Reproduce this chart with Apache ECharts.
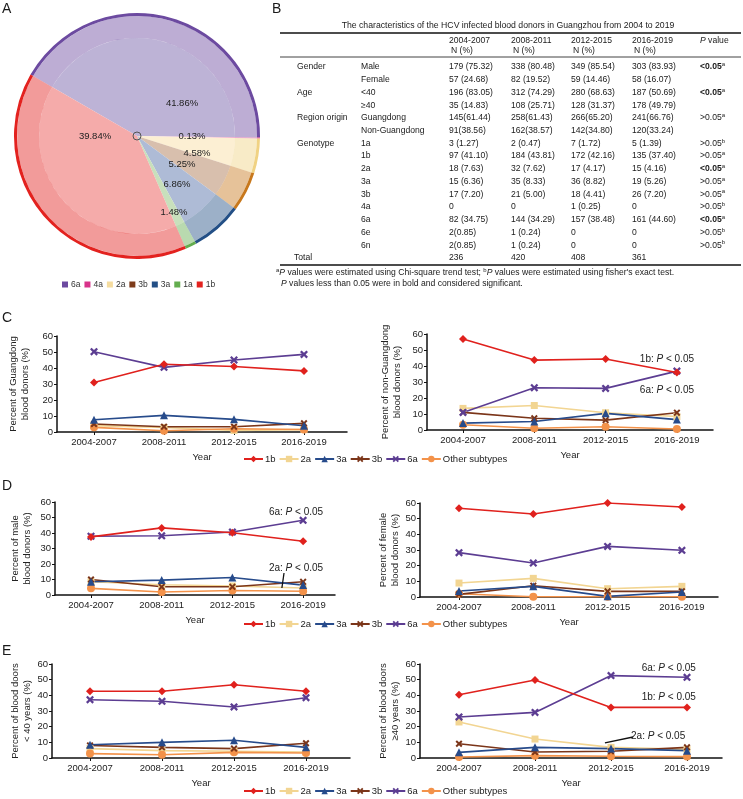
<!DOCTYPE html>
<html>
<head>
<meta charset="utf-8">
<script src="https://cdn.jsdelivr.net/npm/echarts@6/dist/echarts.min.js"></script>
<style>
html, body { margin: 0; padding: 0; background: #fff; }
#main { width: 743px; height: 799px; }
</style>
</head>
<body>
<div id="main"></div>
<script>
var FONT = 'Liberation Sans, Arial, sans-serif'
var INK = '#1a1a1a'

// ---- panel A: genotype share of the tree
var genotypes = ['6a', '4a', '2a', '3b', '3a', '1a', '1b']
var genotypeShare = [41.86, 0.13, 4.58, 5.25, 6.86, 1.48, 39.84]

// ---- panel B: table
var periods = ['2004-2007', '2008-2011', '2012-2015', '2016-2019']
var rowGroups = ['Gender', '', 'Age', '', 'Region origin', '', 'Genotype', '', '', '', '', '', '', '', '']
var rowNames = ['Male', 'Female', '<40', '≥40', 'Guangdong', 'Non-Guangdong', '1a', '1b', '2a', '3a', '3b', '4a', '6a', '6e', '6n']
var n2004 = ['179 (75.32)', '57 (24.68)', '196 (83.05)', '35 (14.83)', '145(61.44)', '91(38.56)', '3 (1.27)', '97 (41.10)', '18 (7.63)', '15 (6.36)', '17 (7.20)', '0', '82 (34.75)', '2(0.85)', '2(0.85)']
var n2008 = ['338 (80.48)', '82 (19.52)', '312 (74.29)', '108 (25.71)', '258(61.43)', '162(38.57)', '2 (0.47)', '184 (43.81)', '32 (7.62)', '35 (8.33)', '21 (5.00)', '0', '144 (34.29)', '1 (0.24)', '1 (0.24)']
var n2012 = ['349 (85.54)', '59 (14.46)', '280 (68.63)', '128 (31.37)', '266(65.20)', '142(34.80)', '7 (1.72)', '172 (42.16)', '17 (4.17)', '36 (8.82)', '18 (4.41)', '1 (0.25)', '157 (38.48)', '0', '0']
var n2016 = ['303 (83.93)', '58 (16.07)', '187 (50.69)', '178 (49.79)', '241(66.76)', '120(33.24)', '5 (1.39)', '135 (37.40)', '15 (4.16)', '19 (5.26)', '26 (7.20)', '0', '161 (44.60)', '0', '0']
var pValues = ['<0.05', '', '<0.05', '', '>0.05', '', '>0.05', '>0.05', '<0.05', '>0.05', '>0.05', '>0.05', '<0.05', '>0.05', '>0.05']
var pTests = ['a', '', 'a', '', 'a', '', 'b', 'a', 'a', 'a', 'a', 'b', 'a', 'b', 'b']
var totals = ['236', '420', '408', '361']

// ---- panels C-E: percent of donors by subtype
var subtypes = ['1b', '2a', '3a', '3b', '6a', 'Other subtypes']

var gd1b = [30.9, 42.3, 40.9, 38.2]
var gd2a = [4.0, 2.8, 1.0, 1.5]
var gd3a = [7.7, 10.4, 7.9, 3.9]
var gd3b = [5.0, 3.3, 3.3, 5.4]
var gd6a = [50.2, 40.4, 45.0, 48.5]
var gdOther = [2.9, 0.8, 2.0, 1.6]

var ngd1b = [56.9, 43.7, 44.4, 35.9]
var ngd2a = [13.5, 15.3, 10.8, 8.4]
var ngd3a = [4.3, 5.3, 10.4, 6.5]
var ngd3b = [11.0, 7.3, 6.2, 10.8]
var ngd6a = [11.0, 26.4, 26.0, 36.8]
var ngdOther = [3.3, 1.1, 2.0, 0.6]

var male1b = [37.5, 43.3, 40.2, 34.7]
var male2a = [8.5, 6.6, 5.8, 4.5]
var male3a = [8.5, 9.6, 11.3, 6.4]
var male3b = [10.0, 5.3, 5.3, 8.5]
var male6a = [37.9, 38.2, 40.6, 48.2]
var maleOther = [4.3, 1.9, 2.9, 2.4]

var female1b = [56.6, 53.0, 60.0, 57.4]
var female2a = [8.9, 11.9, 5.3, 6.8]
var female3a = [3.8, 6.8, 0.4, 3.2]
var female3b = [1.7, 7.2, 3.6, 3.6]
var female6a = [28.3, 21.7, 32.3, 29.8]
var femaleOther = [2.1, 0.2, 0.2, 0.2]

var young1b = [42.6, 42.6, 46.8, 42.6]
var young2a = [6.0, 4.7, 4.3, 3.8]
var young3a = [8.5, 10.0, 11.3, 6.8]
var young3b = [8.0, 6.8, 6.0, 9.4]
var young6a = [37.2, 36.2, 32.6, 38.5]
var youngOther = [2.8, 2.1, 3.6, 3.2]

var old1b = [40.4, 49.8, 32.3, 32.3]
var old2a = [23.0, 12.1, 6.8, 5.5]
var old3a = [3.6, 6.8, 6.0, 4.7]
var old3b = [9.1, 3.8, 4.3, 6.8]
var old6a = [26.2, 29.1, 52.6, 51.5]
var oldOther = [0.6, 1.5, 1.1, 0.9]

var charts = [
  { title: 'Percent of Guangdong\nblood donors (%)', values: [gd1b, gd2a, gd3a, gd3b, gd6a, gdOther] },
  { title: 'Percent of non-Guangdong\nblood donors (%)', values: [ngd1b, ngd2a, ngd3a, ngd3b, ngd6a, ngdOther] },
  { title: 'Percent of male\nblood donors (%)', values: [male1b, male2a, male3a, male3b, male6a, maleOther] },
  { title: 'Percent of female\nblood donors (%)', values: [female1b, female2a, female3a, female3b, female6a, femaleOther] },
  { title: 'Percent of blood doors\n< 40 years (%)', values: [young1b, young2a, young3a, young3b, young6a, youngOther] },
  { title: 'Percent of blood doors\n≥40 years (%)', values: [old1b, old2a, old3a, old3b, old6a, oldOther] }
]

// annotations (data coordinates)
var notes = [
  { chart: 1, x: 2.86, y: 44.4, label: '1b' },
  { chart: 1, x: 2.86, y: 25, label: '6a' },
  { chart: 2, x: 2.9, y: 53.5, label: '6a' },
  { chart: 2, x: 2.9, y: 17.4, label: '2a' },
  { chart: 5, x: 2.76, y: 57.4, label: '6a' },
  { chart: 5, x: 2.76, y: 39, label: '1b' },
  { chart: 5, x: 2.62, y: 14, label: '2a' }
]
var pointers = [
  { chart: 2, from: [2.73, 14.2], to: [2.70, 4.5] },
  { chart: 5, from: [2.29, 13.4], to: [1.92, 9.6] }
]

// ---- layout / style
var shadeColors = ['#bdb3d6', '#ee9cc4', '#fcefd3', '#d8bfad', '#aebbd6', '#c8e0bc', '#f5abaa']
var branchColors = ['#6c4aa0', '#d8338a', '#f0d283', '#c8781c', '#234f86', '#63ad4e', '#e3221f']
var legendAColors = ['#6c4aa0', '#d8338a', '#f5dc9f', '#7d3b1a', '#234f86', '#63ad4e', '#e3221f']
var pieCenter = [137, 136]
var pieLabelOffsets = [[45, -33], [55, 0], [60, 17], [45, 28], [40, 48], [37, 76], [-42, 0]]

var lineColors = ['#e0211d', '#f2d592', '#274b8b', '#7b3519', '#5c3d92', '#f3924a']
var CROSS = 'path://M0,2L2,0L5,3L8,0L10,2L7,5L10,8L8,10L5,7L2,10L0,8L3,5Z'
var symbols = ['diamond', 'rect', 'triangle', CROSS, CROSS, 'circle']
var symbolSizes = [8, 7, 8, 7, 8, 8]
var drawOrder = [1, 5, 3, 2, 4, 0]

var boxes = [
  { left: 57, top: 336, right: 347, bottom: 432, p0: 94, sp: 70, gap: 26 },
  { left: 427, top: 334, right: 713, bottom: 430, p0: 463, sp: 71.3, gap: 24 },
  { left: 55, top: 502, right: 335, bottom: 595, p0: 91, sp: 70.7, gap: 22 },
  { left: 420, top: 503, right: 718, bottom: 597, p0: 459, sp: 74.3, gap: 19 },
  { left: 52, top: 664, right: 350, bottom: 758, p0: 90, sp: 72, gap: 17 },
  { left: 420, top: 664, right: 722, bottom: 758, p0: 459, sp: 76, gap: 18 }
]
var legendTops = [454, 619, 786]

// ---- graphic: letters, table, pie labels
var elements = []
function txt (text, x, y, extra) {
  var style = { text: text, fill: INK, fontSize: 8.6, fontFamily: FONT, align: 'left', verticalAlign: 'middle' }
  for (var k in (extra || {})) style[k] = extra[k]
  elements.push({ type: 'text', x: x, y: y, z: 100, silent: true, style: style })
}
function hline (x1, x2, y, w) {
  elements.push({ type: 'line', silent: true, shape: { x1: x1, y1: y, x2: x2, y2: y }, style: { stroke: '#111', lineWidth: w } })
}
var richBase = {
  n: { fontSize: 8.6, fontFamily: FONT, fill: INK, lineHeight: 11 },
  b: { fontSize: 8.6, fontFamily: FONT, fill: INK, fontWeight: 'bold', lineHeight: 11 },
  i: { fontSize: 8.6, fontFamily: FONT, fill: INK, fontStyle: 'italic', lineHeight: 11 },
  s: { fontSize: 6, fontFamily: FONT, fill: INK, verticalAlign: 'top', lineHeight: 11 }
}

;[['A', 2, 2], ['B', 272, 2], ['C', 2, 311], ['D', 2, 479], ['E', 2, 644]].forEach(function (l) {
  txt(l[0], l[1], l[2], { fontSize: 14, verticalAlign: 'top' })
})

txt('The characteristics of the HCV infected blood donors in Guangzhou from 2004 to 2019', 508, 26, { align: 'center', fontSize: 8.7 })
hline(280, 741, 33, 1.5)
hline(280, 741, 57, 0.8)
hline(280, 741, 265, 1.5)
var colX = [449, 511, 571, 632]
periods.forEach(function (p, j) {
  txt(p, colX[j], 41)
  txt('N (%)', colX[j] + 2, 51)
})
txt('{i|P}{n| value}', 700, 41, { rich: richBase })
var cols = [n2004, n2008, n2012, n2016]
rowNames.forEach(function (r, i) {
  var y = 67 + i * 12.73
  if (rowGroups[i]) txt(rowGroups[i], 297, y)
  txt(r, 361, y)
  cols.forEach(function (c, j) { txt(c[i], colX[j], y) })
  if (pValues[i]) {
    var st = pValues[i].charAt(0) === '<' ? 'b' : 'n'
    txt('{' + st + '|' + pValues[i] + '}{s|' + pTests[i] + '}', 700, y, { rich: richBase })
  }
})
txt('Total', 294, 258)
totals.forEach(function (t, j) { txt(t, colX[j], 258) })
txt('{s|a}{i|P}{n| values were estimated using Chi-square trend test; }{s|b}{i|P}{n| values were estimated using fisher\'s exact test.}', 276, 273, { rich: richBase })
txt('{i|P}{n| values less than 0.05 were in bold and considered significant.}', 281, 284, { rich: richBase })

genotypeShare.forEach(function (v, i) {
  txt(v.toFixed(2) + '%', pieCenter[0] + pieLabelOffsets[i][0], pieCenter[1] + pieLabelOffsets[i][1], { align: 'center', fontSize: 9.5, fill: '#222' })
})
elements.push({ type: 'circle', z: 100, silent: true, shape: { cx: pieCenter[0], cy: pieCenter[1], r: 4 }, style: { fill: 'none', stroke: '#555', lineWidth: 1 } })

// ---- series
function pieLayer (inner, outer, colors, opacity) {
  return {
    type: 'pie', center: pieCenter, radius: [inner, outer], startAngle: 150, clockwise: true,
    silent: true, label: { show: false }, labelLine: { show: false }, emphasis: { disabled: true },
    itemStyle: { borderWidth: 0, opacity: opacity },
    data: genotypes.map(function (g, i) {
      return { name: g, value: genotypeShare[i], itemStyle: { color: colors[i] } }
    })
  }
}
var series = [
  pieLayer(0, 98, shadeColors, 1),
  pieLayer(98, 120, branchColors, 0.45),
  pieLayer(120, 123, branchColors, 1)
]

var grids = []
var xAxes = []
var yAxes = []
charts.forEach(function (c, ci) {
  var b = boxes[ci]
  grids.push({ left: b.left, top: b.top, width: b.right - b.left, height: b.bottom - b.top, containLabel: false, outerBoundsMode: 'none' })
  xAxes.push({
    gridIndex: ci, type: 'value',
    min: (b.left - b.p0) / b.sp, max: (b.right - b.p0) / b.sp,
    splitLine: { show: false },
    axisLine: { show: true, onZero: false, lineStyle: { color: '#111', width: 1.5 } },
    axisTick: { show: true, length: 3, customValues: [0, 1, 2, 3], lineStyle: { color: '#111' } },
    axisLabel: {
      customValues: [0, 1, 2, 3], fontSize: 9.5, color: '#222', fontFamily: FONT, margin: 5,
      formatter: function (v) { return Math.abs(v - Math.round(v)) < 1e-6 && periods[v] ? periods[v] : '' }
    },
    name: 'Year', nameLocation: 'middle', nameGap: 20,
    nameTextStyle: { fontSize: 9.5, color: '#222', fontFamily: FONT }
  })
  yAxes.push({
    gridIndex: ci, type: 'value', min: 0, max: 60, interval: 10,
    splitLine: { show: false },
    axisLine: { show: true, onZero: false, lineStyle: { color: '#111', width: 1.5 } },
    axisTick: { show: true, length: 3, lineStyle: { color: '#111' } },
    axisLabel: { fontSize: 9.5, color: '#222', fontFamily: FONT, margin: 4 },
    name: c.title, nameLocation: 'middle', nameGap: b.gap,
    nameTextStyle: { fontSize: 9.5, lineHeight: 12, color: '#222', fontFamily: FONT }
  })
  drawOrder.forEach(function (k) {
    var s = {
      type: 'line', name: subtypes[k], xAxisIndex: ci, yAxisIndex: ci,
      data: c.values[k].map(function (v, j) { return [j, v] }),
      symbol: symbols[k], symbolSize: symbolSizes[k], showSymbol: true,
      lineStyle: { color: lineColors[k], width: 1.6 },
      itemStyle: { color: lineColors[k] },
      silent: true
    }
    if (k === 4) {
      var myNotes = notes.filter(function (n) { return n.chart === ci })
      var myPointers = pointers.filter(function (p) { return p.chart === ci })
      if (myNotes.length) {
        s.markPoint = {
          silent: true, animation: false,
          data: myNotes.map(function (n) {
            return {
              coord: [n.x, n.y], symbol: 'rect', symbolSize: 1,
              itemStyle: { color: 'rgba(0,0,0,0)' },
              label: {
                show: true, position: 'inside',
                formatter: '{n|' + n.label + ': }{i|P}{n| < 0.05}',
                rich: {
                  n: { fontSize: 10, color: '#222', fontFamily: FONT },
                  i: { fontSize: 10, color: '#222', fontFamily: FONT, fontStyle: 'italic' }
                }
              }
            }
          })
        }
      }
      if (myPointers.length) {
        s.markLine = {
          silent: true, animation: false, symbol: ['none', 'none'],
          label: { show: false },
          lineStyle: { color: '#111', width: 1.3, type: 'solid' },
          data: myPointers.map(function (p) { return [{ coord: p.from }, { coord: p.to }] })
        }
      }
    }
    series.push(s)
  })
})

var legends = [{
  left: 62, top: 280, padding: 0, itemWidth: 6, itemHeight: 6, itemGap: 4,
  textStyle: { fontSize: 8.5, color: '#333', fontFamily: FONT, padding: [0, 0, 0, -2] },
  data: genotypes.map(function (g, i) {
    return { name: g, icon: 'rect', itemStyle: { color: legendAColors[i], borderWidth: 0 } }
  })
}]
legendTops.forEach(function (t) {
  legends.push({
    left: 243, top: t, padding: 0, itemWidth: 19, itemHeight: 8, itemGap: 3,
    textStyle: { fontSize: 9.5, color: '#222', fontFamily: FONT, padding: [0, 0, 0, -3] },
    data: subtypes
  })
})

var chart = echarts.init(document.getElementById('main'))
chart.setOption({
  animation: false,
  backgroundColor: '#fff',
  textStyle: { fontFamily: FONT },
  graphic: { elements: elements },
  legend: legends,
  grid: grids,
  xAxis: xAxes,
  yAxis: yAxes,
  series: series
})
</script>
</body>
</html>
